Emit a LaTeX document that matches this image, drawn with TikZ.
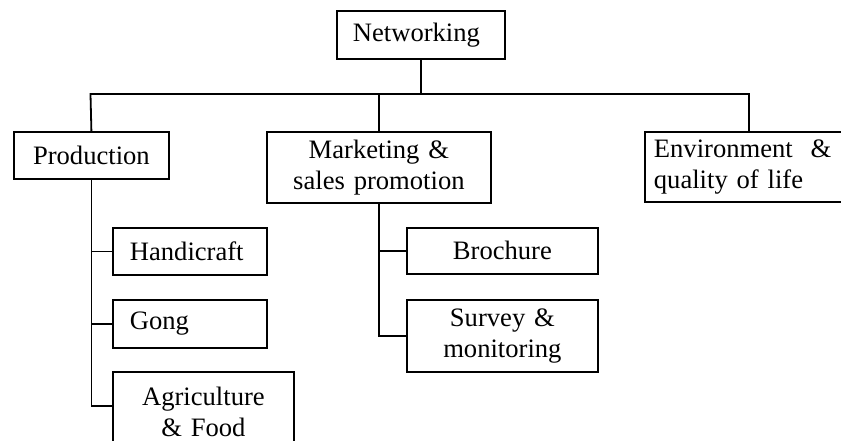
\documentclass[tikz,border=0pt]{standalone}
\usepackage{fontspec}
\setmainfont{Liberation Serif}
\begin{document}
\begin{tikzpicture}[x=1pt,y=-1pt,
  box/.style={draw, line width=1.8pt, anchor=north west, inner sep=0pt,
    font=\fontsize{26.6}{30.5}\selectfont},
  cbox/.style={box, align=center},
  lbox/.style={box, align=left},
  ln/.style={line width=1.8pt, line cap=rect}]
\useasboundingbox (0,0) rectangle (841,441);
\clip (0,0) rectangle (841,441);
% boxes
\node[lbox, inner xsep=16pt, text width=136pt, minimum height=48pt] (net) at (336,10) {Networking};
\node[cbox, minimum width=155pt, text width=155pt, minimum height=47pt] (prod) at (13,131) {Production};
\node[cbox, minimum width=224pt, text width=224pt, minimum height=71pt] (mark) at (266,131) {Marketing \&\\sales promotion};
\node[lbox, inner xsep=9pt, text width=250pt, minimum height=70pt] (env) at (644,131) {Environment~~\&\\quality of life};
\node[lbox, inner xsep=17pt, text width=120pt, minimum height=47pt] (hand) at (112,227) {Handicraft};
\node[lbox, inner xsep=17pt, text width=120pt, minimum height=48pt] (gong) at (112,299) {Gong};
\node[cbox, minimum width=181pt, text width=181pt, minimum height=80pt] (agri) at (112,371) {Agriculture\\\& Food};
\node[cbox, minimum width=191pt, text width=191pt, minimum height=46pt] (broch) at (406,227) {Brochure};
\node[cbox, minimum width=191pt, text width=191pt, minimum height=72pt] (surv) at (406,299) {Survey \&\\monitoring};
% connectors
\coordinate (bl) at (90.5,94);
\coordinate (br) at (749,94);
\coordinate (ya) at (0,406);
\draw[ln] (net.south) -- (net.south |- bl);
\draw[ln] (prod.north) -- (bl) -- (br) -- (br |- env.north);
\draw[ln] (mark.north) -- (mark.north |- bl);
\draw[ln] (prod.south) -- (prod.south |- ya) -- (agri.west |- ya);
\draw[ln] (prod.south |- hand.west) -- (hand.west);
\draw[ln] (prod.south |- gong.west) -- (gong.west);
\draw[ln] (mark.south) -- (mark.south |- surv.west) -- (surv.west);
\draw[ln] (mark.south |- broch.west) -- (broch.west);
\end{tikzpicture}
\end{document}
